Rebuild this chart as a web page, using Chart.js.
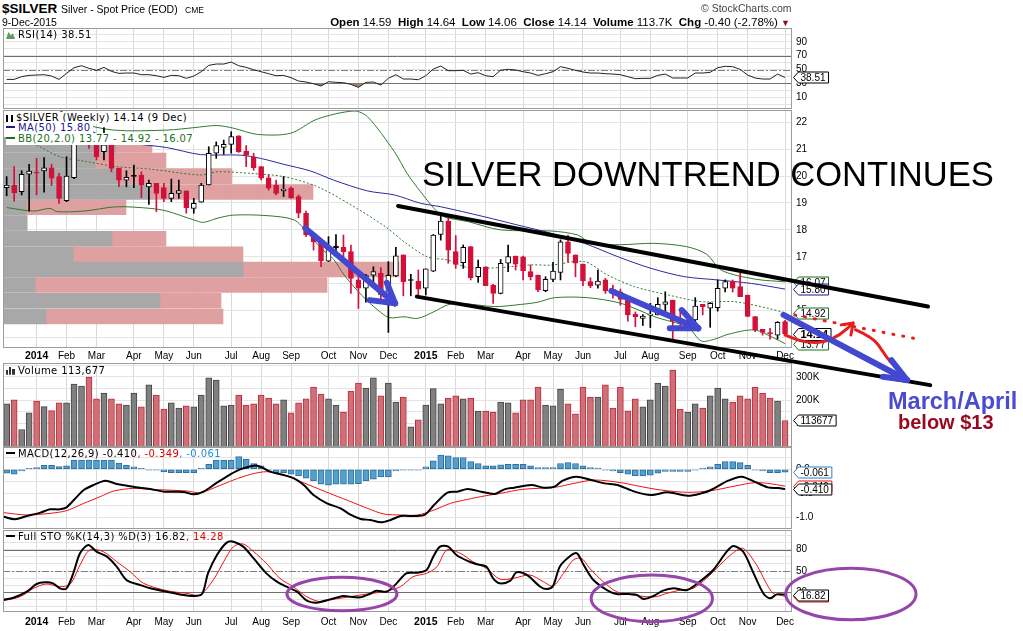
<!DOCTYPE html>
<html>
<head>
<meta charset="utf-8">
<title>$SILVER weekly</title>
<script src="https://cdn.jsdelivr.net/npm/chart.js@4.4.1/dist/chart.umd.min.js"></script>
<style>
html, body { margin: 0; padding: 0; background: #fff; }
#page { position: relative; width: 1023px; height: 631px; overflow: hidden; font-family: "Liberation Sans", Arial, sans-serif; color: #000; }
#page canvas { position: absolute; left: 0; }
.txt { position: absolute; white-space: nowrap; line-height: 1; }
.leg { position: absolute; white-space: nowrap; font-family: "DejaVu Sans", sans-serif; font-size: 10px; line-height: 12px; letter-spacing: 0.4px; }
.dash { display: inline-block; width: 9px; height: 2px; margin: 0 3px 0 0; vertical-align: 3px; }
.ico { display: inline-block; width: 9px; height: 8px; margin-right: 3px; vertical-align: -1px; }
</style>
</head>
<body>
<div id="page">
<canvas id="rsi" width="1023" height="81" style="top:28px"></canvas>
<canvas id="vol" width="1023" height="84" style="top:363px"></canvas>
<canvas id="macd" width="1023" height="82" style="top:447px"></canvas>
<canvas id="sto" width="1023" height="101" style="top:530px"></canvas>
<canvas id="price" width="1023" height="521" style="top:110px"></canvas>

<!-- header -->
<div class="txt" style="left:2px;top:1.5px;font-size:13.5px;font-weight:bold">$SILVER</div>
<div class="txt" style="left:61px;top:3.8px;font-size:10.5px">Silver - Spot Price (EOD)</div>
<div class="txt" style="left:185px;top:6.2px;font-size:8.5px">CME</div>
<div class="txt" style="left:2px;top:17px;font-size:10.5px">9-Dec-2015</div>
<div class="txt" style="right:233px;top:16.8px;font-size:11.5px"><b>Open</b> 14.59 &nbsp;<b>High</b> 14.64 &nbsp;<b>Low</b> 14.06 &nbsp;<b>Close</b> 14.14 &nbsp;<b>Volume</b> 113.7K &nbsp;<b>Chg</b> -0.40 (-2.78%) <span style="color:#8b0f1e;font-size:9px">&#9660;</span></div>
<div class="txt" style="left:701px;top:2.6px;font-size:10.5px;color:#444">&copy; StockCharts.com</div>

<!-- panel legends -->
<div class="leg" style="left:6px;top:29px"><span class="ico" style="background:#5f9a5f;clip-path:polygon(0 100%,30% 10%,55% 60%,75% 25%,100% 100%)"></span>RSI(14) 38.51</div>
<div class="leg" style="left:6px;top:111.7px;background:#fff;padding-right:2px"><span class="ico" style="border-left:2px solid #000;border-right:2px solid #000;width:3px;height:7px"></span>$SILVER (Weekly) 14.14 (9 Dec)</div>
<div class="leg" style="left:6px;top:122.3px;color:#1a1a8c;background:#fff;padding-right:2px"><span class="dash" style="background:#1a1a8c"></span>MA(50) 15.80</div>
<div class="leg" style="left:6px;top:133px;color:#1e6e1e;background:#fff;padding-right:2px"><span class="dash" style="background:#1e6e1e"></span>BB(20,2.0) 13.77 - 14.92 - 16.07</div>
<div class="leg" style="left:6px;top:364.7px"><span class="ico" style="background:linear-gradient(90deg,#333 0 2px,transparent 2px 3px,#333 3px 5px,transparent 5px 6px,#333 6px 8px);clip-path:polygon(0 40%,25% 40%,25% 0,62% 0,62% 30%,100% 30%,100% 100%,0 100%)"></span>Volume 113,677</div>
<div class="leg" style="left:6px;top:448px"><span class="dash" style="background:#000"></span>MACD(12,26,9) -0.410<span style="color:#e00000">, -0.349</span><span style="color:#1f8fd6">, -0.061</span></div>
<div class="leg" style="left:6px;top:530.7px"><span class="dash" style="background:#000"></span>Full STO %K(14,3) %D(3) 16.82<span style="color:#e00000">, 14.28</span></div>

<!-- hand annotations (text) -->
<div class="txt" style="left:422px;top:156.5px;font-size:34.6px">SILVER DOWNTREND CONTINUES</div>
<div class="txt" style="left:888px;top:390px;font-size:23.5px;font-weight:bold;color:#4b4bd2">March/April</div>
<div class="txt" style="left:898px;top:412.4px;font-size:20px;font-weight:bold;color:#99081f">below $13</div>
</div>

<script>
// weekly bars, week index 0 = 9 Dec 2013 ... 104 = 7 Dec 2015
const monthTicks = [[4, '2014'], [8, 'Feb'], [12, 'Mar'], [17, 'Apr'], [21, 'May'], [25, 'Jun'], [30, 'Jul'], [34, 'Aug'], [38, 'Sep'], [43, 'Oct'], [47, 'Nov'], [51, 'Dec'],
  [56, '2015'], [60, 'Feb'], [64, 'Mar'], [69, 'Apr'], [73, 'May'], [77, 'Jun'], [82, 'Jul'], [86, 'Aug'], [91, 'Sep'], [95, 'Oct'], [99, 'Nov'], [104, 'Dec']];

const open = [19.57, 19.67, 19.42, 20.07, 20.15, 20.19, 20.31, 19.98, 19.09, 19.94,
  21.60, 21.94, 21.18, 20.91, 21.16, 20.29, 19.85, 20.00, 20.04, 19.60,
  19.73, 19.57, 19.17, 19.36, 19.45, 18.80, 19.03, 19.67, 20.85, 21.07,
  21.18, 21.50, 20.93, 20.72, 20.35, 19.94, 19.67, 19.45, 19.55, 19.24,
  18.62, 17.87, 17.56, 16.84, 17.40, 17.35, 17.19, 16.14, 15.83, 16.32,
  16.39, 15.58, 16.29, 17.07, 16.14, 16.10, 15.83, 16.47, 17.83, 18.33,
  17.19, 16.78, 17.38, 16.26, 16.63, 15.95, 15.64, 16.76, 17.03, 17.00,
  16.45, 16.32, 15.74, 16.16, 16.42, 17.56, 17.07, 16.73, 16.08, 15.95,
  16.14, 15.80, 15.70, 15.39, 14.86, 14.71, 14.83, 14.84, 15.23, 15.39,
  14.70, 14.50, 14.65, 15.23, 15.09, 15.11, 15.83, 16.08, 15.89, 15.58,
  14.78, 14.30, 14.18, 14.09, 14.59];
const high = [19.98, 20.35, 20.20, 20.44, 20.66, 20.69, 20.44, 20.10, 20.72, 21.90,
  22.10, 22.20, 21.34, 21.80, 21.16, 20.30, 20.20, 20.41, 20.16, 19.85,
  19.73, 19.73, 19.89, 19.85, 19.45, 19.17, 19.73, 21.09, 21.27, 21.34,
  21.65, 21.50, 21.13, 20.85, 20.35, 20.04, 19.85, 19.98, 19.60, 19.30,
  18.70, 17.87, 17.68, 17.75, 17.83, 17.81, 17.44, 16.45, 16.35, 16.63,
  16.60, 16.82, 17.35, 17.07, 16.35, 16.51, 16.55, 17.83, 18.55, 18.55,
  17.79, 17.44, 17.38, 16.88, 16.63, 15.98, 16.90, 17.44, 17.03, 17.03,
  16.70, 16.32, 16.26, 16.79, 17.63, 17.81, 17.07, 16.73, 16.22, 16.51,
  16.20, 15.95, 15.80, 15.45, 14.95, 14.85, 15.27, 15.48, 15.70, 15.39,
  14.95, 14.90, 15.48, 15.23, 15.30, 16.14, 16.14, 16.14, 16.39, 15.58,
  14.78, 14.30, 14.34, 14.59, 14.64];
const low = [19.27, 19.07, 19.30, 18.70, 19.30, 19.40, 19.65, 18.98, 19.05, 19.90,
  21.40, 21.03, 20.60, 20.60, 20.16, 19.61, 19.60, 19.57, 19.20, 18.95,
  18.68, 19.05, 19.05, 19.17, 18.62, 18.62, 19.03, 19.67, 20.66, 20.81,
  20.85, 20.88, 20.35, 20.22, 19.86, 19.48, 19.30, 19.24, 19.17, 18.45,
  17.75, 17.25, 16.63, 16.82, 17.07, 17.00, 15.64, 15.08, 15.31, 15.98,
  15.33, 14.19, 16.26, 15.55, 15.55, 15.58, 15.58, 16.45, 17.62, 16.76,
  16.57, 16.57, 16.14, 16.05, 15.93, 15.27, 15.62, 16.45, 16.51, 16.14,
  16.14, 15.70, 15.70, 16.08, 16.14, 16.82, 16.26, 15.93, 15.85, 15.83,
  15.64, 15.46, 15.20, 14.61, 14.40, 14.45, 14.37, 14.84, 14.85, 13.91,
  14.40, 14.35, 14.34, 14.84, 14.38, 14.98, 15.69, 15.69, 15.52, 14.78,
  14.22, 14.09, 13.94, 13.94, 14.06];
const close = [19.67, 19.38, 20.07, 20.19, 20.11, 20.31, 19.92, 19.17, 20.00, 21.70,
  21.80, 21.16, 20.72, 21.16, 20.29, 19.85, 19.95, 19.99, 19.67, 19.73,
  19.36, 19.17, 19.36, 19.46, 18.83, 18.99, 19.67, 20.85, 21.13, 21.18,
  21.47, 20.91, 20.78, 20.31, 19.92, 19.55, 19.36, 19.52, 19.20, 18.62,
  17.81, 17.56, 16.86, 17.30, 17.33, 17.19, 16.20, 15.83, 16.30, 16.45,
  15.58, 16.31, 17.04, 16.08, 16.12, 15.80, 16.55, 17.81, 18.33, 17.25,
  16.72, 17.35, 16.22, 16.61, 15.93, 15.64, 16.76, 17.01, 16.73, 16.48,
  16.26, 15.77, 16.16, 16.47, 17.56, 17.13, 16.76, 16.10, 15.93, 16.10,
  15.73, 15.66, 15.42, 14.84, 14.77, 14.80, 14.84, 15.23, 15.33, 14.61,
  14.55, 14.60, 15.17, 15.15, 15.27, 15.83, 16.08, 15.83, 15.52, 14.78,
  14.28, 14.19, 14.13, 14.56, 14.14];
const volumeK = [185, 202, 75, 146, 197, 173, 156, 189, 189, 270,
  261, 300, 206, 231, 206, 185, 180, 231, 172, 266,
  223, 163, 189, 167, 176, 172, 223, 296, 287, 176,
  180, 223, 180, 185, 223, 210, 185, 202, 146, 189,
  206, 257, 227, 206, 180, 150, 240, 274, 253, 296,
  219, 274, 193, 214, 86, 116, 180, 250, 185, 210,
  219, 206, 210, 154, 154, 150, 193, 189, 146, 202,
  202, 257, 180, 176, 248, 185, 142, 257, 214, 214,
  266, 167, 257, 155, 206, 172, 202, 274, 261, 330,
  163, 150, 185, 167, 219, 253, 206, 193, 219, 206,
  257, 231, 210, 197, 113.677];

// volume by price (left side bars)
const vbpPrice = [21.51, 20.86, 20.22, 19.56, 18.93, 18.28, 17.63, 16.99, 16.36, 15.72, 15.07, 14.42];
const vbpUp = [113, 92, 117, 147, 23, 24, 109, 70, 240, 32, 157, 43];
const vbpDown = [36, 71, 112, 163, 100, 0, 54, 170, 156, 292, 61, 177];

// overlays [week, price]
const ma50 = [[5, 22.75], [7, 22.45], [9.8, 21.9], [12.5, 21.53], [16.9, 21.22], [21.4, 21.06], [25.9, 20.8], [31.2, 20.78], [33.9, 20.66], [37, 20.44], [40.6, 20.19],
  [43.7, 19.85], [48.2, 19.45], [51.8, 19.3], [55.3, 18.99], [58, 18.86], [63.8, 18.49], [68.3, 18.18], [72.8, 17.87], [77.2, 17.5], [81.7, 17.0], [86.1, 16.57],
  [90.6, 16.26], [95, 16.14], [99.5, 16.01], [104, 15.8]];
const bbUpper = [[0, 23.6], [4, 23.0], [7.1, 22.46], [9.4, 22.02], [14.3, 21.71], [21.4, 21.71], [25, 21.8], [28.1, 21.88], [30.3, 21.78], [33.5, 21.55], [37.9, 21.59],
  [41.5, 22.12], [46.4, 22.42], [48.2, 22.21], [51.8, 20.91], [53.5, 20.1], [55.3, 19.42], [57.1, 18.8], [58.4, 18.49], [61.6, 18.31], [66, 18.0], [72.7, 17.96],
  [76.3, 17.81], [78.1, 17.5], [82, 17.45], [86.4, 17.5], [90.8, 17.38], [93.5, 17.1], [95.5, 16.5], [100, 16.17], [104, 16.07]];
const bbMid = [[0, 21.6], [2.5, 21.35], [4.45, 21.09], [7.1, 20.72], [10.7, 20.54], [14.7, 20.35], [19.2, 20.26], [25.9, 20.04], [28.1, 20.16], [32.6, 20.1], [37, 19.98],
  [41.5, 19.61], [46, 18.93], [50.6, 18.12], [53.1, 17.56], [56.2, 17.0], [58.9, 16.88], [61.6, 16.6], [66, 16.6], [70.1, 16.7], [72.7, 16.69], [77.2, 16.82],
  [80.3, 16.32], [83.9, 15.89], [88.4, 15.58], [92.9, 15.33], [97.3, 15.33], [101.8, 15.08], [104, 14.92]];
const bbLower = [[0, 18.83], [3.6, 18.7], [5.8, 18.8], [6.7, 18.68], [10.3, 18.7], [14.7, 18.86], [19.2, 18.8], [21.4, 18.7], [25, 18.37], [26.3, 18.28], [28.1, 18.43],
  [30.3, 18.55], [34.8, 18.53], [38.4, 18.37], [40.2, 17.9], [42, 17.32], [43.7, 16.9], [45.1, 16.32], [47.4, 15.58], [49.6, 15.02], [51.1, 14.74], [53.1, 14.77],
  [54.9, 14.71], [57.1, 14.96], [58.9, 15.21], [60.7, 15.27], [65.2, 15.15], [68.7, 15.23], [70.9, 15.31], [73.2, 15.48], [77.6, 15.48], [82.1, 15.27], [86.6, 14.77],
  [88.8, 14.59], [91, 14.4], [92.8, 13.87], [94.6, 13.94], [96.4, 14.12], [99.9, 14.28], [102.6, 13.97], [104, 13.77]];

// RSI(14), one value per week
const rsiValues = [35.7, 35.7, 39.6, 41.5, 42.0, 42.5, 40.5, 35.7, 44.4, 52.6,
  55.5, 51.7, 48.8, 53.1, 47.3, 44.4, 44.9, 44.9, 42.5, 42.5,
  41.0, 38.6, 41.5, 41.0, 37.2, 40.5, 46.8, 56.0, 57.9, 57.9,
  60.8, 55.5, 53.1, 49.7, 46.8, 43.9, 41.0, 41.5, 38.1, 33.3,
  31.9, 29.4, 26.1, 32.3, 31.4, 30.9, 28.5, 24.1, 31.4, 31.9,
  27.5, 37.2, 42.5, 36.2, 36.2, 35.2, 41.0, 50.7, 55.0, 48.3,
  48.3, 48.8, 43.4, 45.4, 41.0, 39.6, 49.0, 50.2, 49.3, 46.8,
  44.9, 41.5, 43.9, 46.8, 54.1, 51.7, 48.8, 46.4, 44.9, 44.9,
  43.9, 43.4, 42.5, 39.6, 36.7, 37.2, 37.2, 41.5, 43.4, 37.7,
  37.7, 37.7, 44.9, 44.9, 45.9, 52.6, 54.6, 54.1, 50.2, 42.0,
  37.7, 36.2, 36.2, 43.4, 38.51];

// MACD(12,26,9)
const macdLine = [[-0.4, -0.98], [1.1, -1.03], [2.7, -0.965], [4.5, -0.896], [5.8, -0.828], [7.1, -0.828], [8, -0.786], [9.4, -0.566], [10.3, -0.429], [11.6, -0.326],
  [13.2, -0.237], [14.7, -0.305], [16.1, -0.34], [17.8, -0.381], [19.2, -0.408], [21, -0.463], [23.6, -0.47], [25, -0.518], [26.3, -0.463], [28.1, -0.278],
  [29.9, -0.106], [31.2, -0.003], [33, 0.073], [33.9, 0.052], [35.2, -0.051], [37, -0.12], [38.4, -0.188], [39.7, -0.326], [41, -0.532], [42.8, -0.704],
  [44.6, -0.807], [46, -0.944], [47.3, -1.027], [48.6, -1.047], [50, -1.096], [51.3, -1.047], [52.65, -0.965], [54.4, -0.965], [55.8, -0.944], [57.1, -0.738],
  [58.9, -0.484], [60.2, -0.463], [61.6, -0.408], [63.4, -0.463], [65.2, -0.511], [66.5, -0.415], [67.8, -0.381], [70.1, -0.326], [71.8, -0.381], [73.2, -0.36],
  [74.3, -0.237], [76.1, -0.154], [78.1, -0.223], [79.9, -0.292], [81.6, -0.326], [83.9, -0.463], [86.1, -0.532], [88.3, -0.477], [91, -0.546], [92.8, -0.498],
  [94.1, -0.429], [96.4, -0.237], [98.2, -0.154], [99.9, -0.257], [101.7, -0.374], [103.1, -0.388], [104, -0.41]];
const macdSignal = [[-0.4, -0.896], [2.7, -0.944], [5.8, -0.91], [8, -0.855], [10.3, -0.704], [12.5, -0.566], [14.3, -0.45], [16.9, -0.395], [19.2, -0.415], [21.4, -0.429],
  [24.1, -0.45], [25.9, -0.484], [28.1, -0.36], [30.3, -0.223], [32.6, -0.106], [34.8, -0.051], [37, -0.12], [39.3, -0.257], [41.5, -0.395], [43.7, -0.532],
  [46, -0.67], [48.2, -0.807], [50.4, -0.924], [52.65, -0.944], [54.9, -0.944], [57.1, -0.841], [59.3, -0.704], [61.6, -0.621], [63.8, -0.553], [66, -0.498],
  [68.9, -0.415], [73.2, -0.374], [75.8, -0.292], [78.5, -0.223], [82.1, -0.278], [84.8, -0.36], [87.4, -0.429], [91, -0.477], [94.1, -0.443], [97.3, -0.347],
  [99.9, -0.278], [101.7, -0.292], [104, -0.349]];
const macdHist = [-0.082, -0.103, -0.034, 0.005, 0.034, 0.082, 0.082, 0.055, 0.069, 0.186,
  0.186, 0.186, 0.186, 0.186, 0.186, 0.124, 0.082, 0.048, 0.005, -0.005,
  -0.005, -0.055, -0.069, -0.069, -0.069, -0.069, 0.005, 0.103, 0.186, 0.186,
  0.186, 0.261, 0.206, 0.117, 0.069, -0.021, -0.069, -0.069, -0.103, -0.137,
  -0.186, -0.241, -0.309, -0.33, -0.309, -0.309, -0.309, -0.296, -0.241, -0.206,
  -0.158, -0.158, -0.034, -0.021, -0.005, -0.005, 0.048, 0.172, 0.289, 0.275,
  0.241, 0.241, 0.158, 0.117, 0.069, 0.069, 0.089, 0.103, 0.103, 0.103,
  0.069, 0.034, 0.034, 0.034, 0.117, 0.137, 0.117, 0.069, 0.034, 0.021,
  -0.005, -0.034, -0.069, -0.103, -0.137, -0.137, -0.124, -0.082, -0.048, -0.048,
  -0.048, -0.048, -0.021, 0.021, 0.048, 0.103, 0.158, 0.158, 0.137, 0.082,
  -0.005, -0.034, -0.069, -0.069, -0.061];

// Full STO %K(14,3) %D(3)
const stoK = [[-0.45, 9.2], [0.9, 12.4], [2.7, 20.9], [4, 31.7], [5.1, 34.0], [6.2, 32.6], [7.1, 25.6], [8, 25.6], [8.9, 46.7], [9.8, 74.9], [10.9, 86.6], [12, 77.2],
  [13.4, 70.2], [14.7, 56.1], [16, 37.3], [17.8, 30.3], [19.2, 25.6], [21.4, 20.9], [23.6, 16.2], [24.9, 14.8], [26.1, 17.6], [26.9, 46.7], [28.1, 72.5], [29.4, 89.9],
  [30.3, 91.3], [31.6, 84.3], [33, 67.8], [34.7, 46.7], [36.1, 35.0], [37.4, 27.9], [38.8, 20.9], [40.1, 8.2], [41.4, 5.4], [43.2, 10.1], [45, 14.8], [45.9, 13.8],
  [47.2, 12.9], [48.5, 17.6], [49.4, 22.3], [50.8, 20.9], [52.1, 32.6], [53.4, 46.7], [54.8, 47.6], [56.1, 51.4], [57, 70.2], [57.9, 84.3], [59, 84.3], [60.1, 72.5],
  [61.5, 64.5], [62.8, 59.4], [64.1, 56.1], [65, 39.7], [65.9, 32.6], [67.3, 36.4], [68.1, 48.1], [69.5, 44.4], [71.3, 27.9], [72.2, 24.6], [73, 28.9], [73.9, 56.1],
  [75.3, 71.1], [76.2, 74.9], [77.1, 58.4], [78.4, 37.3], [80.2, 23.2], [81.5, 17.6], [82.8, 17.6], [84.2, 16.2], [85.1, 10.6], [86.4, 14.8], [87.7, 22.3], [89.1, 25.6],
  [90.9, 23.2], [92.6, 35.0], [94.4, 51.4], [96.2, 77.2], [97.1, 85.2], [98.4, 77.2], [99.8, 46.7], [101.1, 18.5], [102, 11.5], [102.9, 17.1], [104, 16.82]];
const stoD = [[-0.45, 8.2], [1.8, 13.8], [3.6, 25.6], [5.3, 31.7], [7.1, 27.9], [8.5, 31.7], [9.8, 58.4], [11.1, 79.6], [12.9, 77.2], [14.7, 63.1], [16.5, 49.0], [18.3, 32.6],
  [21.4, 22.3], [24.1, 18.5], [25.8, 16.2], [27.6, 37.3], [29, 63.1], [30.3, 84.3], [31.6, 88.0], [33, 77.2], [34.7, 60.8], [36.5, 39.7], [38.3, 27.9], [40.1, 13.8],
  [41.9, 6.8], [43.6, 10.1], [45.9, 13.8], [48.1, 17.6], [50.3, 20.9], [52.6, 27.9], [54.3, 42.0], [56.1, 46.7], [57.5, 56.1], [58.8, 79.6], [60.6, 74.9], [62.3, 63.1],
  [64.1, 53.8], [65.9, 38.5], [67.7, 39.7], [69.9, 44.4], [71.7, 35.0], [73, 28.9], [74.4, 46.7], [75.7, 65.5], [76.8, 67.8], [77.9, 53.8], [79.7, 35.0], [81.5, 20.9],
  [83.7, 16.2], [85.5, 13.8], [86.8, 13.8], [88.2, 18.5], [90, 23.2], [91.7, 25.6], [93.5, 39.7], [95.3, 58.4], [97.1, 75.8], [98.4, 81.9], [100.2, 58.4], [101.5, 32.6],
  [102.4, 18.5], [103.3, 16.2], [104, 14.28]];

// axis ticks
const priceTicks = [14, 15, 16, 17, 18, 19, 20, 21, 22];
const rsiTicks = [0, 10, 20, 30, 40, 50, 60, 70, 80, 90, 100];
const rsiLabelled = [10, 30, 50, 70, 90];
const volTicks = [50, 100, 150, 200, 250, 300, 350];
const volLabelled = [100, 200, 300];
const macdTicks = [0.25, 0, -0.25, -0.5, -0.75, -1.0];
const macdLabelled = [0, -0.5, -1.0];
const stoTicks = [0, 10, 20, 30, 40, 50, 60, 70, 80, 90, 100];
const stoLabelled = [20, 50, 80];

// hand drawn annotations, in [week, price] / [week, %] units
const trendLines = [[[52.3, 18.89], [123.1, 15.15]], [[54.8, 15.52], [123.4, 12.23]]];
const blueArrows = [
  {from: [39.9, 18.06], to: [51.9, 15.27], wings: [[48.5, 15.39], [50.8, 16.03]]},
  {from: [80.8, 15.73], to: [92.4, 14.34], wings: [[88.6, 14.34], [90.2, 15.02]]},
  {from: [103.8, 14.84], to: [120.3, 12.42], wings: [[117.1, 12.54], [118.2, 13.16]]}
];
const redDotted = [[105.3, 14.84], [122.3, 13.91]];
const redCurves = [[[104.0, 14.10], [106.0, 13.84], [109.1, 13.80], [111.4, 14.10], [113.1, 14.54]],
  [[113.4, 14.29], [115.8, 13.99], [117.1, 13.47], [118.0, 13.10], [119.4, 12.73]]];
const redWings = [[[111.5, 14.47], [113.1, 14.54], [112.8, 14.09]]];
const stoEllipses = [{cx: 44.8, cy: 17.6, rx: 7.35, ry: 23.5}, {cx: 86.2, cy: 11.4, rx: 8.1, ry: 32.8}, {cx: 112.8, cy: 17.6, rx: 8.7, ry: 36.3}];

const RED = '#d2103a';
const xMin = -0.49, xMax = 104.93; // plot from x=3 to x=792

Chart.defaults.font.family = '"Liberation Sans", Arial, sans-serif';
Chart.defaults.font.size = 10;
Chart.defaults.color = '#000';

function pts(pairs) { return pairs.map(p => ({x: p[0], y: p[1]})); }

function monthLabel(v) {
  const m = monthTicks.find(t => t[0] === v);
  return m ? m[1] : '';
}

function xAxis(showLabels, pad) {
  return {
    type: 'linear', min: xMin, max: xMax, offset: false,
    afterBuildTicks: ax => { ax.ticks = monthTicks.map(t => ({value: t[0]})); },
    afterFit: ax => { ax.height = showLabels ? 16 : 0; ax.paddingLeft = 0; ax.paddingRight = 0; },
    grid: {color: '#d9d9d9', drawTicks: false, offset: false},
    border: {display: false},
    ticks: {
      display: showLabels, padding: pad || 2, maxRotation: 0, autoSkip: false,
      callback: v => monthLabel(v),
      font: c => {
        const lab = c.tick ? monthLabel(c.tick.value) : '';
        return /^\d/.test(lab) ? {size: 10.5, weight: 'bold'} : {size: 10};
      }
    }
  };
}

function yAxis(min, max, ticks, labelled, fmt) {
  return {
    type: 'linear', position: 'right', min: min, max: max,
    afterBuildTicks: ax => { ax.ticks = ticks.map(v => ({value: v})); },
    afterFit: ax => { ax.width = 40; ax.paddingTop = 0; ax.paddingBottom = 0; },
    grid: {color: '#e4e4e4', drawTicks: false},
    border: {display: false},
    ticks: {padding: 4, autoSkip: false, callback: v => (labelled.indexOf(v) >= 0 ? fmt(v) : '')}
  };
}

function drawBox(ctx, x, y, box) {
  ctx.save();
  ctx.font = (box.bold ? 'bold 11px' : '10px') + ' "Liberation Sans", Arial, sans-serif';
  const w = ctx.measureText(box.text).width + 5;
  const h = box.bold ? 12 : 11;
  const x0 = x + 1.5, yy = Math.round(y) + 0.5;
  ctx.beginPath();
  ctx.moveTo(x0, yy);
  ctx.lineTo(x0 + 5, yy - h / 2);
  ctx.lineTo(x0 + 5 + w, yy - h / 2);
  ctx.lineTo(x0 + 5 + w, yy + h / 2);
  ctx.lineTo(x0 + 5, yy + h / 2);
  ctx.closePath();
  ctx.fillStyle = '#fff';
  ctx.fill();
  ctx.lineWidth = 1;
  ctx.strokeStyle = box.color;
  ctx.stroke();
  ctx.fillStyle = '#000';
  ctx.textBaseline = 'middle';
  ctx.textAlign = 'left';
  ctx.fillText(box.text, x0 + 7, yy + 0.5);
  ctx.restore();
}

// frame, reference lines, value boxes and extra drawing for a panel
function decor(name, opts) {
  return {
    id: 'decor_' + name,
    beforeDatasetsDraw(chart) {
      const {ctx, chartArea: a, scales} = chart;
      (opts.refLines || []).forEach(r => {
        const y = Math.round(scales.y.getPixelForValue(r.value)) + 0.5;
        ctx.save();
        ctx.strokeStyle = r.color;
        ctx.lineWidth = 1;
        ctx.setLineDash(r.dash || []);
        ctx.beginPath();
        ctx.moveTo(a.left, y);
        ctx.lineTo(a.right, y);
        ctx.stroke();
        ctx.restore();
      });
    },
    afterDraw(chart) {
      const {ctx, chartArea: a, scales} = chart;
      ctx.save();
      ctx.strokeStyle = '#9c9c9c';
      ctx.lineWidth = 1;
      ctx.strokeRect(Math.round(a.left) + 0.5, Math.round(a.top) + 0.5, Math.round(a.right - a.left) - 1, Math.round(a.bottom - a.top) - 1);
      ctx.restore();
      (opts.boxes || []).forEach(b => drawBox(ctx, a.right, scales.y.getPixelForValue(b.value), b));
      if (opts.after) opts.after(chart);
    }
  };
}

function baseOptions(yScale, showX, padBottom, xPad) {
  return {
    responsive: false, animation: false, events: [],
    layout: {padding: {left: 3, right: 191, top: 0, bottom: padBottom}},
    plugins: {legend: {display: false}, tooltip: {enabled: false}},
    scales: {x: xAxis(showX, xPad), y: yScale}
  };
}

function lineSet(pairs, color, width, extra) {
  return Object.assign({type: 'line', data: pts(pairs), borderColor: color, borderWidth: width, pointRadius: 0, tension: 0.3, fill: false}, extra || {});
}

// ---------- RSI ----------
new Chart(document.getElementById('rsi'), {
  type: 'line',
  data: {datasets: [{
    data: rsiValues.map((v, i) => ({x: i, y: v})), borderColor: '#222', borderWidth: 1, pointRadius: 0, tension: 0,
    fill: {target: {value: 30}, above: 'rgba(0,0,0,0)', below: '#a9806c'}
  }]},
  options: baseOptions(yAxis(-7.2, 110.1, rsiTicks, rsiLabelled, v => String(v)), false, 0),
  plugins: [decor('rsi', {
    refLines: [{value: 70, color: '#6e6e6e'}, {value: 30, color: '#6e6e6e'}, {value: 50, color: '#808080', dash: [7, 2, 2, 2]}],
    boxes: [{value: 38.51, text: '38.51', color: '#000'}]
  })]
});

// ---------- price ----------
const candleColor = close.map((c, i) => (i > 0 ? c < close[i - 1] : c < open[i]) ? RED : '#000');
const filled = close.map((c, i) => c < open[i]);

function drawPath(ctx, xs, ys, list, color, width, dash) {
  ctx.save();
  ctx.strokeStyle = color;
  ctx.lineWidth = width;
  ctx.lineCap = 'round';
  ctx.lineJoin = 'round';
  ctx.setLineDash(dash || []);
  ctx.beginPath();
  list.forEach((p, k) => {
    const px = xs.getPixelForValue(p[0]), py = ys.getPixelForValue(p[1]);
    if (k === 0) ctx.moveTo(px, py); else ctx.lineTo(px, py);
  });
  ctx.stroke();
  ctx.restore();
}

function drawCurve(ctx, xs, ys, list, color, width) {
  const p = list.map(q => [xs.getPixelForValue(q[0]), ys.getPixelForValue(q[1])]);
  ctx.save();
  ctx.strokeStyle = color;
  ctx.lineWidth = width;
  ctx.lineCap = 'round';
  ctx.beginPath();
  ctx.moveTo(p[0][0], p[0][1]);
  for (let k = 1; k < p.length - 1; k++) {
    ctx.quadraticCurveTo(p[k][0], p[k][1], (p[k][0] + p[k + 1][0]) / 2, (p[k][1] + p[k + 1][1]) / 2);
  }
  ctx.lineTo(p[p.length - 1][0], p[p.length - 1][1]);
  ctx.stroke();
  ctx.restore();
}

function priceAnnotations(chart) {
  const ctx = chart.ctx, xs = chart.scales.x, ys = chart.scales.y;
  trendLines.forEach(t => drawPath(ctx, xs, ys, t, '#000', 4));
  drawPath(ctx, xs, ys, redDotted, '#e61e1e', 3, [1, 9]);
  redCurves.forEach(c => drawCurve(ctx, xs, ys, c, '#e61e1e', 3));
  redWings.forEach(w => drawPath(ctx, xs, ys, w, '#e61e1e', 3));
  blueArrows.forEach(a => {
    drawPath(ctx, xs, ys, [a.from, a.to], '#4248cf', 6);
    a.wings.forEach(w => drawPath(ctx, xs, ys, [w, a.to], '#4248cf', 6));
  });
}

const priceOptions = baseOptions(yAxis(13.61, 22.457, priceTicks, priceTicks, v => String(v)), true, 267, 2);
priceOptions.scales.xv = {type: 'linear', axis: 'x', display: false, min: 0, max: 789, offset: false};
priceOptions.scales.yv = {type: 'linear', axis: 'y', display: false, min: 13.61, max: 22.457};

new Chart(document.getElementById('price'), {
  type: 'line',
  data: {datasets: [
    {type: 'bar', indexAxis: 'y', xAxisID: 'xv', yAxisID: 'yv', order: 30, grouped: false, barThickness: 15,
      data: vbpPrice.map((p, k) => ({y: p, x: [0, vbpUp[k]]})), backgroundColor: '#a8a8a8', borderWidth: 0},
    {type: 'bar', indexAxis: 'y', xAxisID: 'xv', yAxisID: 'yv', order: 30, grouped: false, barThickness: 15,
      data: vbpPrice.map((p, k) => ({y: p, x: [vbpUp[k], vbpUp[k] + vbpDown[k]]})), backgroundColor: '#dea0a0', borderWidth: 0},
    lineSet(bbUpper, '#2f7a2f', 1, {order: 20}),
    lineSet(bbLower, '#2f7a2f', 1, {order: 20}),
    lineSet(bbMid, '#2f7a2f', 1, {order: 20, borderDash: [2, 2]}),
    lineSet(ma50, '#2a2aa0', 1, {order: 19}),
    {type: 'bar', order: 10, grouped: false, barThickness: 1,
      data: close.map((c, i) => ({x: i, y: [low[i], high[i]]})), backgroundColor: candleColor, borderWidth: 0},
    {type: 'bar', order: 5, grouped: false, barThickness: 5, minBarLength: 1,
      data: close.map((c, i) => ({x: i, y: [open[i], c]})),
      backgroundColor: close.map((c, i) => filled[i] ? candleColor[i] : '#fff'),
      borderColor: candleColor, borderWidth: 1, borderSkipped: false}
  ]},
  options: priceOptions,
  plugins: [decor('price', {
    boxes: [{value: 16.07, text: '16.07', color: '#1e6e1e'}, {value: 15.80, text: '15.80', color: '#1a1a8c'},
      {value: 14.92, text: '14.92', color: '#1e6e1e'}, {value: 13.77, text: '13.77', color: '#1e6e1e'},
      {value: 14.14, text: '14.14', color: '#000', bold: true}],
    after: priceAnnotations
  })]
});

// ---------- volume ----------
new Chart(document.getElementById('vol'), {
  type: 'bar',
  data: {datasets: [{
    grouped: false, barThickness: 6,
    data: volumeK.map((v, i) => ({x: i, y: v})),
    backgroundColor: candleColor.map(c => c === RED ? '#ce7078' : '#808080'),
    borderColor: candleColor.map(c => c === RED ? '#be2837' : '#444'),
    borderWidth: 1, borderSkipped: false
  }]},
  options: baseOptions(yAxis(0, 360, volTicks, volLabelled, v => v + 'K'), false, 0),
  plugins: [decor('vol', {boxes: [{value: 113.677, text: '113677', color: '#000'}]})]
});

// ---------- MACD ----------
new Chart(document.getElementById('macd'), {
  type: 'bar',
  data: {datasets: [
    {type: 'line', order: 1, data: pts(macdLine), borderColor: '#000', borderWidth: 2, pointRadius: 0, tension: 0.3},
    {type: 'line', order: 2, data: pts(macdSignal), borderColor: '#f01010', borderWidth: 1, pointRadius: 0, tension: 0.3},
    {type: 'bar', order: 5, grouped: false, barThickness: 6, minBarLength: 1,
      data: macdHist.map((v, i) => ({x: i, y: v})), backgroundColor: '#52a0d2', borderColor: '#2d6f9d', borderWidth: 1, borderSkipped: false}
  ]},
  options: baseOptions(yAxis(-1.233, 0.458, macdTicks, macdLabelled, v => v.toFixed(1)), false, 0),
  plugins: [decor('macd', {
    boxes: [{value: -0.061, text: '-0.061', color: '#2f7fc0'}, {value: -0.349, text: '-0.349', color: '#f01010'}, {value: -0.410, text: '-0.410', color: '#000'}]
  })]
});

// ---------- Full STO ----------
function stoEllipsesDraw(chart) {
  const ctx = chart.ctx, xs = chart.scales.x, ys = chart.scales.y;
  const pxPerWeek = Math.abs(xs.getPixelForValue(1) - xs.getPixelForValue(0));
  const pxPerUnit = Math.abs(ys.getPixelForValue(1) - ys.getPixelForValue(0));
  ctx.save();
  ctx.strokeStyle = '#9646aa';
  ctx.lineWidth = 3;
  stoEllipses.forEach(e => {
    ctx.beginPath();
    ctx.ellipse(xs.getPixelForValue(e.cx), ys.getPixelForValue(e.cy), e.rx * pxPerWeek, e.ry * pxPerUnit, 0, 0, Math.PI * 2);
    ctx.stroke();
  });
  ctx.restore();
}

new Chart(document.getElementById('sto'), {
  type: 'line',
  data: {datasets: [
    lineSet(stoK, '#000', 2, {order: 1}),
    lineSet(stoD, '#f01010', 1, {order: 2})
  ]},
  options: baseOptions(yAxis(-7.7, 107.7, stoTicks, stoLabelled, v => String(v)), true, 3, 4),
  plugins: [decor('sto', {
    refLines: [{value: 80, color: '#6e6e6e'}, {value: 20, color: '#6e6e6e'}, {value: 50, color: '#808080', dash: [7, 2, 2, 2]}],
    boxes: [{value: 14.28, text: '14.28', color: '#f01010'}, {value: 16.82, text: '16.82', color: '#000'}],
    after: stoEllipsesDraw
  })]
});
</script>
</body>
</html>
